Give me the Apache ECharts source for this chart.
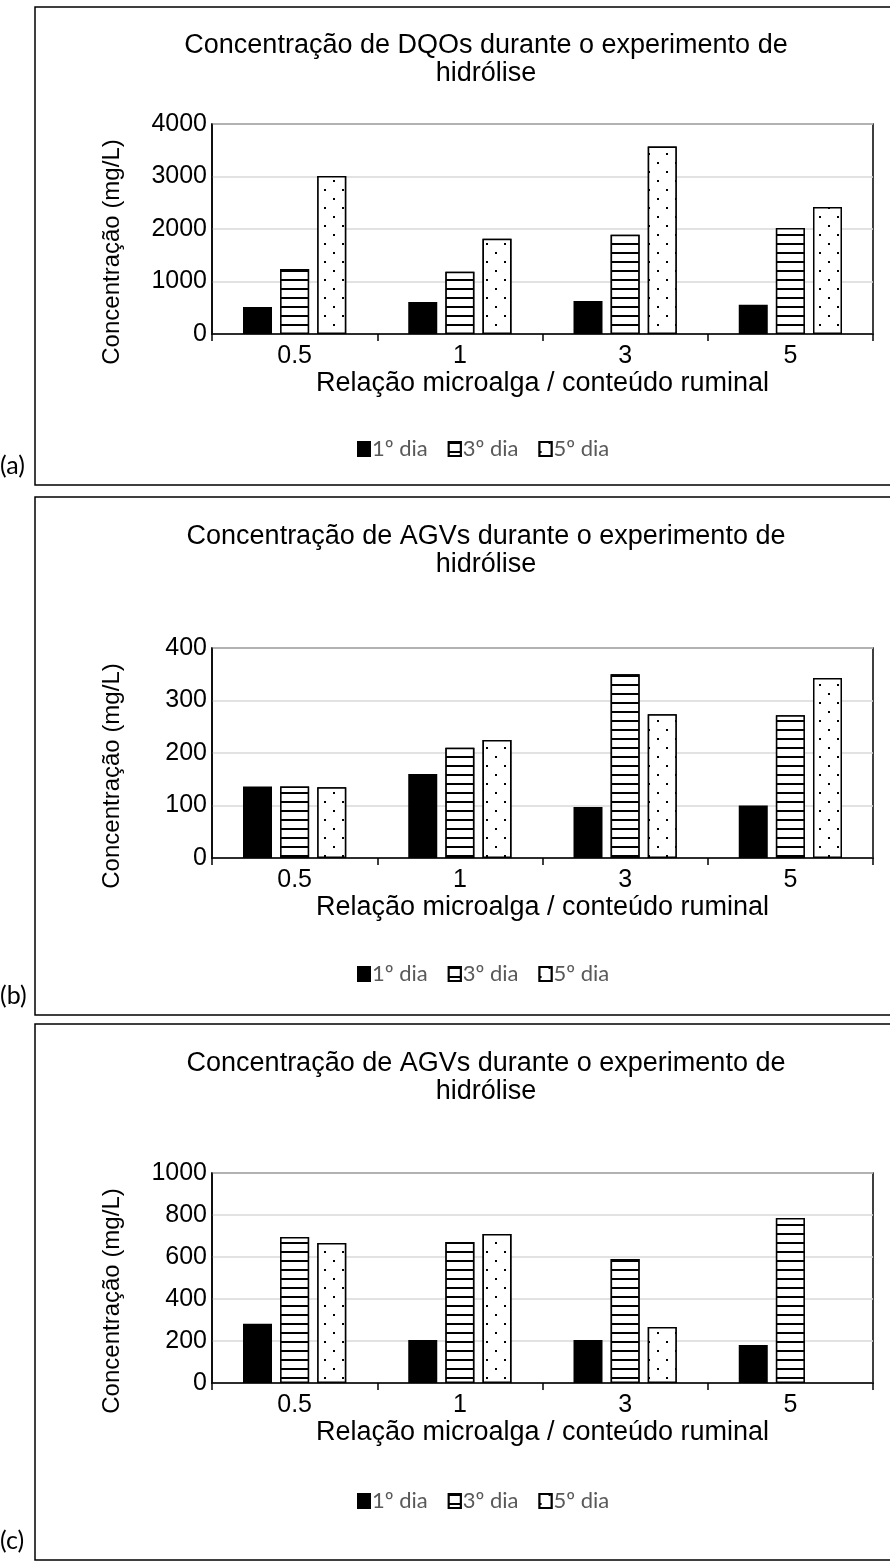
<!DOCTYPE html>
<html>
<head>
<meta charset="utf-8">
<script src="https://cdn.jsdelivr.net/npm/echarts@6/dist/echarts.min.js"></script>
<style>
  html, body { margin: 0; padding: 0; background: #fff; }
  #main { width: 890px; height: 1567px; }
</style>
</head>
<body>
<div id="main"></div>
<script>
// dados
const categories = ["0.5", "1", "3", "5"];
const dayNames = ["1º dia", "3º dia", "5º dia"];

// (a) DQOs
const dqoDay1 = [515, 610, 630, 555];
const dqoDay3 = [1240, 1185, 1890, 2020];
const dqoDay5 = [3010, 1815, 3570, 2420];

// (b) AGVs
const agvbDay1 = [136, 160, 97, 100];
const agvbDay3 = [136, 210, 350, 272];
const agvbDay5 = [135, 225, 274, 343];

// (c) AGVs
const agvcDay1 = [282, 205, 205, 181];
const agvcDay3 = [695, 671, 590, 786];
const agvcDay5 = [667, 710, 267, null];

const titles = [
  "Concentração de DQOs durante o experimento de\nhidrólise",
  "Concentração de AGVs durante o experimento de\nhidrólise",
  "Concentração de AGVs durante o experimento de\nhidrólise",
];
const yMax = [4000, 400, 1000];
const yStep = [1000, 100, 200];
const panelLabels = ["(a)", "(b)", "(c)"];

// layout de cada painel
const panels = [
  { boxTop: 7, boxBottom: 485, gridTop: 124, titleTop: 27, legendTop: 433, data: [dqoDay1, dqoDay3, dqoDay5] },
  { boxTop: 497, boxBottom: 1015, gridTop: 648, titleTop: 518, legendTop: 958, data: [agvbDay1, agvbDay3, agvbDay5] },
  { boxTop: 1024, boxBottom: 1560, gridTop: 1173, titleTop: 1045, legendTop: 1485, data: [agvcDay1, agvcDay3, agvcDay5] },
];

const AXIS_FONT = "'Liberation Sans', Arial, sans-serif";
const LEGEND_FONT = "Lato, 'Open Sans', sans-serif";

// padrões das barras
const lineDecal = {
  symbol: "rect",
  symbolSize: 1,
  color: "#000",
  backgroundColor: "#fff",
  dashArrayX: [1, 0],
  dashArrayY: [1.4, 6.6],
};
const dotDecal = {
  symbol: "rect",
  symbolSize: 1,
  color: "#000",
  backgroundColor: "#fff",
  dashArrayX: [[1.6, 15.4], [0, 8.5, 1.6, 6.9]],
  dashArrayY: [1.6, 6.4],
};
const dayStyles = [
  { color: "#000", borderColor: "#000", borderWidth: 1.5 },
  { color: "#fff", borderColor: "#000", borderWidth: 1.5, decal: lineDecal },
  { color: "#fff", borderColor: "#000", borderWidth: 1.5, decal: dotDecal },
];

const grid = [], xAxis = [], yAxis = [], series = [], title = [], legend = [], graphic = [];

panels.forEach((p, i) => {
  grid.push({
    left: 212, top: p.gridTop, width: 661, height: 210,
    show: true, borderColor: "#000", borderWidth: 1.5, backgroundColor: "transparent",
  });
  xAxis.push({
    type: "category",
    gridIndex: i,
    data: categories,
    name: "Relação microalga / conteúdo ruminal",
    nameLocation: "middle",
    nameGap: 36,
    nameTextStyle: { fontFamily: AXIS_FONT, fontSize: 27, color: "#000" },
    axisLine: { lineStyle: { color: "#000", width: 1.5 } },
    axisTick: { show: true, length: 7, lineStyle: { color: "#000", width: 1.5 } },
    axisLabel: { fontFamily: AXIS_FONT, fontSize: 25, color: "#000", margin: 10 },
  });
  yAxis.push({
    type: "value",
    gridIndex: i,
    min: 0,
    max: yMax[i],
    interval: yStep[i],
    axisLine: { show: true, lineStyle: { color: "#000", width: 1.5 } },
    axisTick: { show: false },
    axisLabel: {
      fontFamily: AXIS_FONT, fontSize: 25, color: "#000", margin: 5,
      formatter: (v) => String(v),
    },
    splitLine: { lineStyle: { color: "#d9d9d9", width: 1.5 } },
  });
  dayNames.forEach((name, k) => {
    series.push({
      name: name,
      type: "bar",
      xAxisIndex: i,
      yAxisIndex: i,
      data: p.data[k],
      barWidth: 29,
      barGap: "28%",
      itemStyle: dayStyles[k],
      emphasis: { disabled: true },
      animation: false,
    });
  });
  title.push({
    text: titles[i],
    left: 481,
    top: p.titleTop,
    textAlign: "center",
    textStyle: { fontFamily: AXIS_FONT, fontSize: 27, fontWeight: "normal", color: "#000", lineHeight: 28 },
  });
  legend.push({
    data: dayNames,
    left: 352,
    top: p.legendTop,
    icon: "rect",
    itemWidth: 12,
    itemHeight: 14,
    itemGap: 20,
    textStyle: { fontFamily: LEGEND_FONT, fontSize: 22, color: "#595959", padding: [0, 0, 0, -3] },
    selectedMode: false,
  });
  // título do eixo y (um pouco abaixo do centro da área, como no original)
  graphic.push({
    type: "text",
    x: 112,
    y: p.gridTop + 128,
    rotation: Math.PI / 2,
    style: {
      text: "Concentração (mg/L)",
      font: "24px " + AXIS_FONT,
      fill: "#000",
      textAlign: "center",
      textVerticalAlign: "middle",
    },
    silent: true,
  });
  // moldura do painel
  graphic.push({
    type: "rect",
    shape: { x: 35, y: p.boxTop, width: 880, height: p.boxBottom - p.boxTop },
    style: { fill: "none", stroke: "#000", lineWidth: 1.5 },
    silent: true,
  });
  graphic.push({
    type: "text",
    x: 0,
    y: p.boxBottom - 32,
    style: { text: panelLabels[i], font: "25px " + LEGEND_FONT, fill: "#000" },
    silent: true,
  });
});

const chart = echarts.init(document.getElementById("main"));
chart.setOption({
  animation: false,
  title: title,
  legend: legend,
  grid: grid,
  xAxis: xAxis,
  yAxis: yAxis,
  series: series,
  graphic: graphic,
});
</script>
</body>
</html>
